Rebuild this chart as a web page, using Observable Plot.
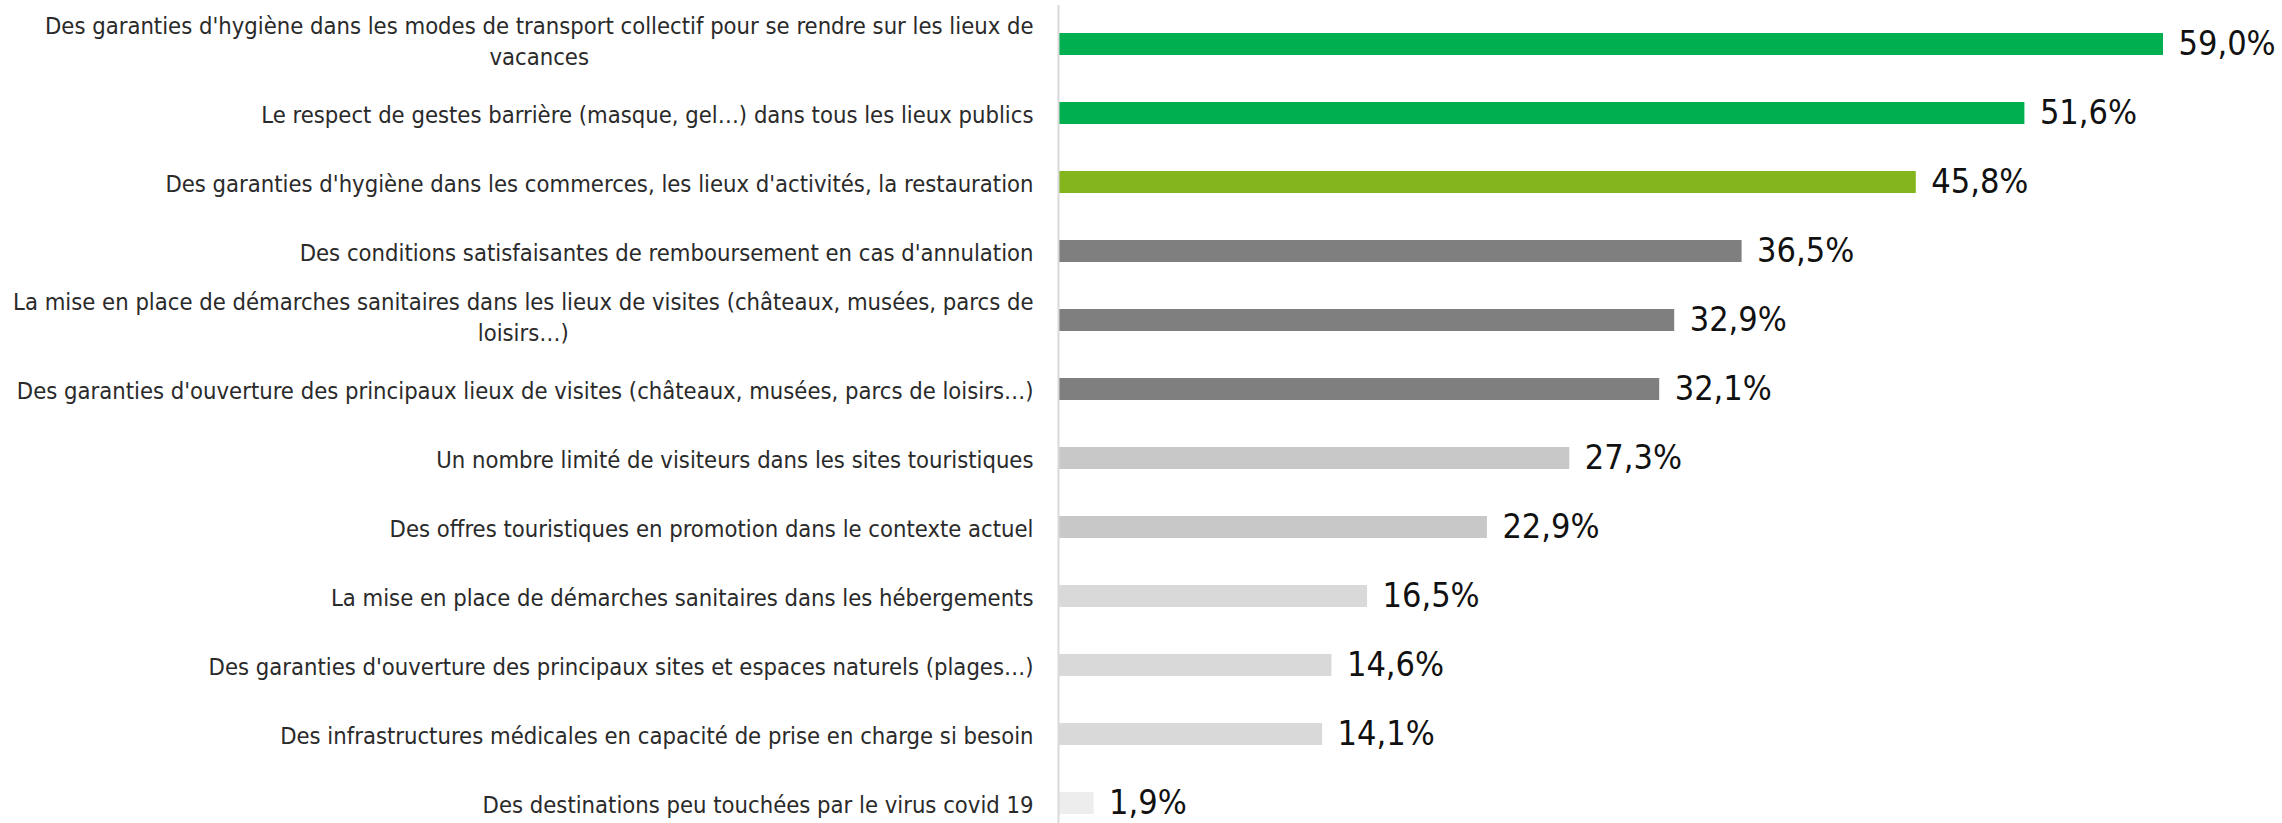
<!DOCTYPE html>
<html><head><meta charset="utf-8">
<script src="https://cdn.jsdelivr.net/npm/d3@7"></script>
<script src="https://cdn.jsdelivr.net/npm/@observablehq/plot@0.6"></script>
<style>body{margin:0;background:#fff} svg{display:block}</style>
</head><body>
<div id="chart"></div>
<script>
const categories = [
  "Des garanties d'hygiène dans les modes de transport collectif pour se rendre sur les lieux de\nvacances",
  "Le respect de gestes barrière (masque, gel…) dans tous les lieux publics",
  "Des garanties d'hygiène dans les commerces, les lieux d'activités, la restauration",
  "Des conditions satisfaisantes de remboursement en cas d'annulation",
  "La mise en place de démarches sanitaires dans les lieux de visites (châteaux, musées, parcs de\nloisirs…)",
  "Des garanties d'ouverture des principaux lieux de visites (châteaux, musées, parcs de loisirs…)",
  "Un nombre limité de visiteurs dans les sites touristiques",
  "Des offres touristiques en promotion dans le contexte actuel",
  "La mise en place de démarches sanitaires dans les hébergements",
  "Des garanties d'ouverture des principaux sites et espaces naturels (plages…)",
  "Des infrastructures médicales en capacité de prise en charge si besoin",
  "Des destinations peu touchées par le virus covid 19"
];
const values = [59.0, 51.6, 45.8, 36.5, 32.9, 32.1, 27.3, 22.9, 16.5, 14.6, 14.1, 1.9];
const colors = ["#00B050","#00B050","#84B51C","#7F7F7F","#7F7F7F","#7F7F7F","#C8C8C8","#C8C8C8","#D9D9D9","#D9D9D9","#D9D9D9","#EDEDED"];

const data = categories.map((c, i) => ({cat: c, v: values[i], color: colors[i]}));
const fmt = v => v.toFixed(1).replace(".", ",") + "%";
const FONT = "'DejaVu Sans Condensed', 'DejaVu Sans', sans-serif";

const chart = Plot.plot({
  width: 2282, height: 823,
  marginLeft: 1058, marginRight: 119, marginTop: 30, marginBottom: 7,
  x: {domain: [0, 59], axis: null},
  y: {domain: categories, paddingInner: 0.683, paddingOuter: 0, axis: null},
  color: {type: "identity"},
  style: {fontFamily: FONT, fontStretch: "condensed", background: "#fff"},
  marks: [
    Plot.barX(data, {x: "v", y: "cat", fill: "color"}),
    Plot.ruleX([0], {stroke: "#d9d9d9", strokeWidth: 2, insetTop: -25, insetBottom: -7}),
    Plot.text(data, {x: "v", y: "cat", text: d => fmt(d.v), textAnchor: "start", dx: 15, fontSize: 34, fill: "#111"}),
    Plot.text(data, {y: "cat", text: "cat", frameAnchor: "left", dx: -25, textAnchor: "end", fontSize: 23.6, lineHeight: 1.3, fill: "#2a2a2a"})
  ]
});
document.getElementById("chart").append(chart);
chart.querySelectorAll("text").forEach(t => {
  const sp = t.querySelectorAll("tspan");
  if (sp.length > 1) {
    const b = t.getBBox();
    t.setAttribute("text-anchor", "middle");
    sp.forEach(s => s.setAttribute("x", b.x + b.width / 2));
    t.setAttribute("transform", (t.getAttribute("transform") || "") + " translate(0,-5)");
  }
});
</script>
</body></html>
